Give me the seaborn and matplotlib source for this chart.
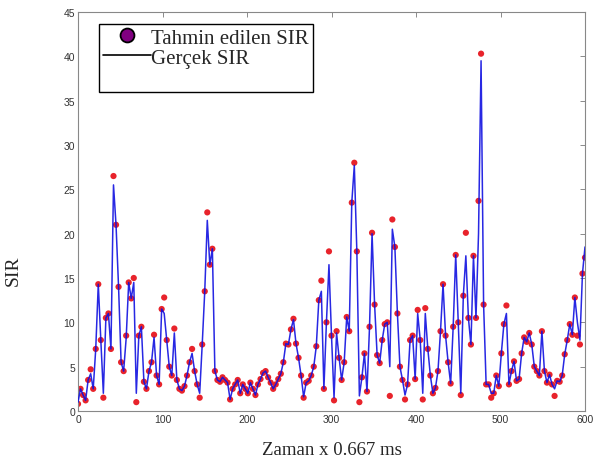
import numpy as np
import pandas as pd
import matplotlib
matplotlib.use("Agg")
import matplotlib.pyplot as plt
from matplotlib.lines import Line2D
from matplotlib.legend_handler import HandlerLine2D
import seaborn as sns

# time index (x 0.667 ms)
time_idx = list(range(0, 601, 3))

# actual SIR (line)
actual_sir = [
    1.0, 2.5, 1.8, 1.2, 3.5, 4.2, 2.5, 7.0, 14.3, 8.0,      # 0-27
    2.0, 10.5, 11.0, 7.0, 25.5, 21.0, 14.0, 5.5, 4.5, 8.2,  # 30-57
    14.5, 12.7, 14.5, 2.0, 8.5, 9.5, 3.3, 2.5, 4.5, 5.5,    # 60-87
    8.3, 4.0, 3.0, 11.5, 11.0, 8.0, 5.0, 4.0, 8.8, 3.5,     # 90-117
    2.5, 2.3, 2.8, 4.0, 5.5, 6.5, 4.5, 3.0, 2.0, 7.5,       # 120-147
    13.5, 21.5, 16.5, 18.3, 4.5, 3.5, 3.3, 3.8, 3.5, 3.2,   # 150-177
    1.3, 2.5, 3.0, 3.5, 2.0, 3.0, 2.5, 2.0, 3.2, 2.5,       # 180-207
    1.8, 3.0, 3.6, 4.3, 4.5, 3.8, 3.2, 2.5, 3.0, 3.6,       # 210-237
    4.2, 5.5, 7.6, 7.5, 9.2, 10.3, 7.6, 6.0, 4.0, 1.6,      # 240-267
    3.2, 3.4, 4.0, 5.0, 7.3, 12.5, 13.5, 2.5, 10.0, 16.5,   # 270-297
    8.5, 1.5, 8.8, 6.0, 3.5, 5.5, 10.6, 9.0, 23.5, 27.7,    # 300-327
    18.0, 1.7, 3.8, 6.5, 2.2, 9.5, 20.0, 12.0, 6.3, 5.4,    # 330-357
    8.0, 9.8, 10.0, 5.0, 20.5, 18.5, 11.0, 5.0, 3.5, 1.8,   # 360-387
    3.0, 8.0, 8.5, 3.6, 11.0, 8.0, 2.0, 11.0, 7.0, 4.0,     # 390-417
    2.0, 2.6, 4.5, 9.0, 14.3, 8.5, 5.5, 3.1, 9.5, 17.6,     # 420-447
    10.0, 2.0, 13.0, 17.5, 10.5, 7.5, 17.5, 10.5, 20.0, 39.5,  # 450-477
    12.0, 3.0, 3.0, 2.0, 2.0, 4.0, 2.8, 6.5, 9.8, 11.0,     # 480-507
    3.0, 4.5, 5.6, 3.4, 3.6, 6.5, 8.3, 7.8, 8.8, 7.5,       # 510-537
    5.0, 4.5, 4.0, 9.0, 4.5, 3.2, 4.1, 3.0, 2.5, 3.4,       # 540-567
    3.3, 4.0, 6.4, 8.0, 9.8, 8.6, 12.8, 10.0, 8.0, 15.5,    # 570-597
    18.5,                                                    # 600
]

# estimated SIR (dots)
predicted_sir = [
    0.8, 2.5, 1.8, 1.2, 3.5, 4.7, 2.5, 7.0, 14.3, 8.0,
    1.5, 10.5, 11.0, 7.0, 26.5, 21.0, 14.0, 5.5, 4.5, 8.5,
    14.5, 12.7, 15.0, 1.0, 8.5, 9.5, 3.3, 2.5, 4.5, 5.5,
    8.6, 4.0, 3.0, 11.5, 12.8, 8.0, 5.0, 4.0, 9.3, 3.5,
    2.5, 2.3, 2.8, 4.0, 5.5, 7.0, 4.5, 3.0, 1.5, 7.5,
    13.5, 22.4, 16.5, 18.3, 4.5, 3.5, 3.3, 3.8, 3.5, 3.2,
    1.3, 2.5, 3.0, 3.5, 2.0, 3.0, 2.5, 2.0, 3.2, 2.5,
    1.8, 3.0, 3.6, 4.3, 4.5, 3.8, 3.2, 2.5, 3.0, 3.6,
    4.2, 5.5, 7.6, 7.5, 9.2, 10.4, 7.6, 6.0, 4.0, 1.5,
    3.2, 3.4, 4.0, 5.0, 7.3, 12.5, 14.7, 2.5, 10.0, 18.0,
    8.5, 1.2, 9.0, 6.0, 3.5, 5.5, 10.6, 9.0, 23.5, 28.0,
    18.0, 1.0, 3.8, 6.5, 2.2, 9.5, 20.1, 12.0, 6.3, 5.4,
    8.0, 9.8, 10.0, 1.7, 21.6, 18.5, 11.0, 5.0, 3.5, 1.3,
    3.0, 8.0, 8.5, 3.6, 11.4, 8.0, 1.3, 11.6, 7.0, 4.0,
    2.0, 2.6, 4.5, 9.0, 14.3, 8.5, 5.5, 3.1, 9.5, 17.6,
    10.0, 1.8, 13.0, 20.1, 10.5, 7.5, 17.5, 10.5, 23.7, 40.3,
    12.0, 3.0, 3.0, 1.5, 2.0, 4.0, 2.8, 6.5, 9.8, 11.9,
    3.0, 4.5, 5.6, 3.4, 3.6, 6.5, 8.3, 7.8, 8.8, 7.5,
    5.0, 4.5, 4.0, 9.0, 4.5, 3.2, 4.1, 3.0, 1.7, 3.4,
    3.3, 4.0, 6.4, 8.0, 9.8, 8.6, 12.8, 8.5, 7.5, 15.5,
    17.3,
]

df = pd.DataFrame({"t": time_idx, "actual": actual_sir, "pred": predicted_sir})

sns.set_style("white")
plt.rcParams["font.family"] = ["Liberation Sans", "DejaVu Sans"]

fig = plt.figure(figsize=(5.95, 4.6), dpi=100)
ax = fig.add_axes([78 / 595, 48 / 460, 507 / 595, 399 / 460])

sns.scatterplot(data=df, x="t", y="pred", ax=ax, color="#e8232b", s=20,
                edgecolor="none", zorder=2, legend=False)
sns.lineplot(data=df, x="t", y="actual", ax=ax, color="#1010e0", lw=1.1,
             alpha=0.9, zorder=3, sort=False, estimator=None, legend=False)

ax.set_xlim(0, 600)
ax.set_ylim(0, 45)
ax.set_xticks([0, 100, 200, 300, 400, 500, 600])
ax.set_yticks(list(range(0, 46, 5)))
ax.tick_params(direction="in", top=True, right=True, length=3.5, width=0.6,
               color="#777777", labelsize=7.5, labelcolor="#333333", pad=2)
for s in ax.spines.values():
    s.set_color("#888888")
    s.set_linewidth(0.8)

ax.set_xlabel("Zaman x 0.667 ms", family=["Liberation Serif"], fontsize=13.5)
ax.set_ylabel("SIR", family=["Liberation Serif"], fontsize=14)
ax.xaxis.set_label_coords(0.5, -0.075)
ax.yaxis.set_label_coords(-0.11, 0.355)


class LeftMarkerHandler(HandlerLine2D):
    def get_xdata(self, legend, xdescent, ydescent, width, height, fontsize):
        xdata = np.array([-xdescent, -xdescent + width], float)
        xdata_marker = np.array([-xdescent + 0.17 * width])
        return xdata, xdata_marker


handles = [
    Line2D([], [], marker="o", linestyle="none", markersize=10,
           markerfacecolor="#800080", markeredgecolor="black", markeredgewidth=1.3),
    Line2D([], [], color="black", lw=1.2),
    Line2D([], [], color="none"),
]
leg = ax.legend(handles, ["Tahmin edilen SIR", "Gerçek SIR", " "],
                loc="upper left", bbox_to_anchor=(0.041, 0.97),
                borderaxespad=0, frameon=True, fancybox=False,
                edgecolor="black", framealpha=1, handlelength=2.3,
                handletextpad=0.0, labelspacing=0.02, borderpad=0.2,
                numpoints=1,
                handler_map={handles[0]: LeftMarkerHandler()},
                prop={"family": "Liberation Serif", "size": 15})
leg.get_frame().set_linewidth(1.0)

fig.savefig("out.png", dpi=100)
